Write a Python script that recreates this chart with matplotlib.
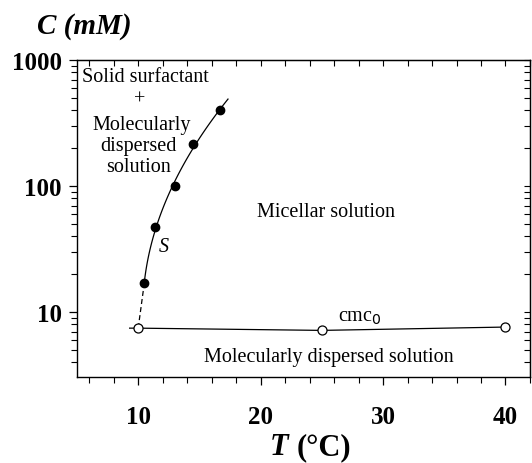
import numpy as np
import matplotlib
matplotlib.use("Agg")
import matplotlib.pyplot as plt
from matplotlib.ticker import MultipleLocator, LogLocator, NullFormatter, FixedLocator

plt.rcParams['font.family'] = ['Liberation Serif', 'DejaVu Serif']

# solubility boundary S (filled points)
t_solid = [10.5, 11.4, 13.0, 14.5, 16.7]
c_solid = [17.0, 47.5, 100.0, 215.0, 400.0]

# cmc0 (open points)
t_cmc = [10.0, 25.0, 40.0]
c_cmc = [7.45, 7.15, 7.6]

fig = plt.figure(figsize=(5.32, 4.64), dpi=100)
ax = fig.add_axes([0.1447, 0.1853, 0.8515, 0.6832])

# smooth curve through the S points, fitted in log space
coef = np.polyfit(np.log10(c_solid), t_solid, 2)
ly = np.linspace(np.log10(c_solid[0]), 2.69, 100)
ax.plot(np.polyval(coef, ly), 10 ** ly, color='black', lw=0.9)
# dashed continuation down to the Krafft point
ax.plot([t_cmc[0], t_solid[0]], [c_cmc[0], c_solid[0]], color='black', lw=0.9,
        dashes=(4, 2.5))

# cmc line, extended a little to the left
ax.plot([9.3] + t_cmc, [c_cmc[0]] + c_cmc, color='black', lw=0.9)
ax.plot(t_cmc, c_cmc, 'o', mfc='white', mec='black', ms=6.5, mew=0.9)
ax.plot(t_solid, c_solid, 'o', color='black', ms=6)

ax.set_yscale('log')
ax.set_xlim(5, 42)
ax.set_ylim(3.05, 1000)

ax.xaxis.set_major_locator(FixedLocator([10, 20, 30, 40]))
ax.xaxis.set_minor_locator(MultipleLocator(2))
ax.yaxis.set_major_locator(FixedLocator([10, 100, 1000]))
ax.yaxis.set_minor_locator(LogLocator(base=10, subs=np.arange(2, 10)))
ax.yaxis.set_minor_formatter(NullFormatter())
ax.set_yticklabels(['10', '100', '1000'])
ax.set_xticklabels(['10', '20', '30', '40'])

ax.tick_params(which='major', direction='out', length=6, width=0.9,
               labelsize=18)
ax.tick_params(which='minor', direction='out', length=4, width=0.8)
for lab in ax.get_xticklabels() + ax.get_yticklabels():
    lab.set_fontweight('bold')
ax.tick_params(axis='y', pad=5)
ax.tick_params(axis='x', pad=14)

# inward ticks on the top and right frames
top = ax.secondary_xaxis('top')
top.xaxis.set_major_locator(MultipleLocator(2))
top.tick_params(direction='in', length=4, width=0.8, labeltop=False)
right = ax.secondary_yaxis('right')
right.set_yscale('log')
right.yaxis.set_major_locator(FixedLocator([10, 100, 1000]))
right.yaxis.set_minor_locator(LogLocator(base=10, subs=np.arange(2, 10)))
right.tick_params(which='both', direction='in', length=4, width=0.8,
                  labelright=False)
right.yaxis.set_minor_formatter(NullFormatter())

for s in ax.spines.values():
    s.set_linewidth(1.0)

fs = 14.5
ax.text(10.6, 735, 'Solid surfactant', ha='center', va='center', fontsize=fs)
ax.text(10.1, 490, '+', ha='center', va='center', fontsize=fs)
ax.text(10.3, 310, 'Molecularly', ha='center', va='center', fontsize=fs)
ax.text(10.0, 211, 'dispersed', ha='center', va='center', fontsize=fs)
ax.text(10.0, 144, 'solution', ha='center', va='center', fontsize=fs)
ax.text(25.3, 63, 'Micellar solution', ha='center', va='center', fontsize=fs)
ax.text(12.1, 33, 'S', ha='center', va='center', fontsize=fs, style='italic')
ax.text(28.1, 9.2, 'cmc$_0$', ha='center', va='center', fontsize=fs)
ax.text(25.6, 4.45, 'Molecularly dispersed solution', ha='center', va='center',
        fontsize=fs)

fig.text(37 / 532, 1 - 26 / 464, 'C (mM)', ha='left', va='center', fontsize=21,
         fontweight='bold', style='italic')
fig.text(270 / 532, 1 - 448 / 464, 'T', ha='left', va='center', fontsize=22,
         fontweight='bold', style='italic')
fig.text(297 / 532, 1 - 448 / 464, '(°C)', ha='left', va='center', fontsize=22,
         fontweight='bold')

fig.savefig('out.png', dpi=100)
